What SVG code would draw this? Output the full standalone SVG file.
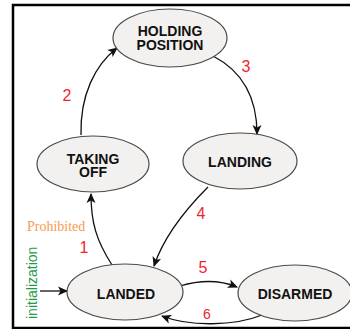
<svg xmlns="http://www.w3.org/2000/svg" width="350" height="329" viewBox="0 0 350 329">
  <style>
    .state ellipse { fill: #f2f1ef; stroke: #4a4a4a; stroke-width: 1.2; }
    .state text { font-family: "Liberation Sans", Arial, sans-serif; font-weight: bold; font-size: 14px; fill: #111; text-anchor: middle; }
    .edge { fill: none; stroke: #111; stroke-width: 1.3; marker-end: url(#arrow); }
    .num { font-family: "Liberation Sans", Arial, sans-serif; font-size: 16px; fill: #f0242c; text-anchor: middle; }
  </style>
  <defs>
    <marker id="arrow" viewBox="0 0 10 10" refX="9" refY="5" markerWidth="10" markerHeight="10" markerUnits="userSpaceOnUse" orient="auto">
      <path d="M0,0.5 L10,5 L0,9.5 L2.5,5 Z" fill="#111"/>
    </marker>
  </defs>
  <rect width="350" height="329" fill="#fff"/>
  <!-- frame -->
  <path d="M350,5 H13 V328 H350" fill="none" stroke="#000" stroke-width="2.5"/>

  <g id="connectors">
    <path class="edge" d="M40,291 L67,291"/>
    <path class="edge" d="M112,265 C96,240 91,222 91,194"/>
    <path class="edge" d="M81,135 C80,95 95,65 117,48"/>
    <path class="edge" d="M213,56 C240,70 257,95 257,134"/>
    <path class="edge" d="M208,187 C185,210 164,236 154,266"/>
    <path class="edge" d="M180,286 C200,280 220,280 237,287"/>
    <path class="edge" d="M262,315 C235,326 190,327 162,316"/>
  </g>

  <g id="holding-position" class="state">
    <ellipse cx="170" cy="38" rx="57" ry="29"/>
    <text x="170" y="36">HOLDING</text>
    <text x="170" y="50">POSITION</text>
  </g>
  <g id="taking-off" class="state">
    <ellipse cx="93" cy="164" rx="56" ry="28"/>
    <text x="93" y="164">TAKING</text>
    <text x="93" y="177">OFF</text>
  </g>
  <g id="landing" class="state">
    <ellipse cx="240" cy="161" rx="57" ry="28"/>
    <text x="240" y="167">LANDING</text>
  </g>
  <g id="landed" class="state">
    <ellipse cx="125" cy="292" rx="58" ry="28"/>
    <text x="126" y="299">LANDED</text>
  </g>
  <g id="disarmed" class="state">
    <ellipse cx="295" cy="293" rx="57" ry="28"/>
    <text x="295" y="299">DISARMED</text>
  </g>

  <g id="labels">
    <text class="num" x="67" y="101">2</text>
    <text class="num" x="246" y="72">3</text>
    <text class="num" x="201" y="219">4</text>
    <text class="num" x="84" y="253">1</text>
    <text class="num" x="203" y="273">5</text>
    <text class="num" x="207" y="319" style="font-size:14px">6</text>
    <text x="27" y="231" style="font-family:'Liberation Serif','Times New Roman',serif;font-size:14px;fill:#f89a50">Prohibited</text>
    <text transform="translate(36.5,319) rotate(-90)" style="font-family:'Liberation Sans',Arial,sans-serif;font-size:14px;fill:#1f9a4a">initialization</text>
  </g>
</svg>
